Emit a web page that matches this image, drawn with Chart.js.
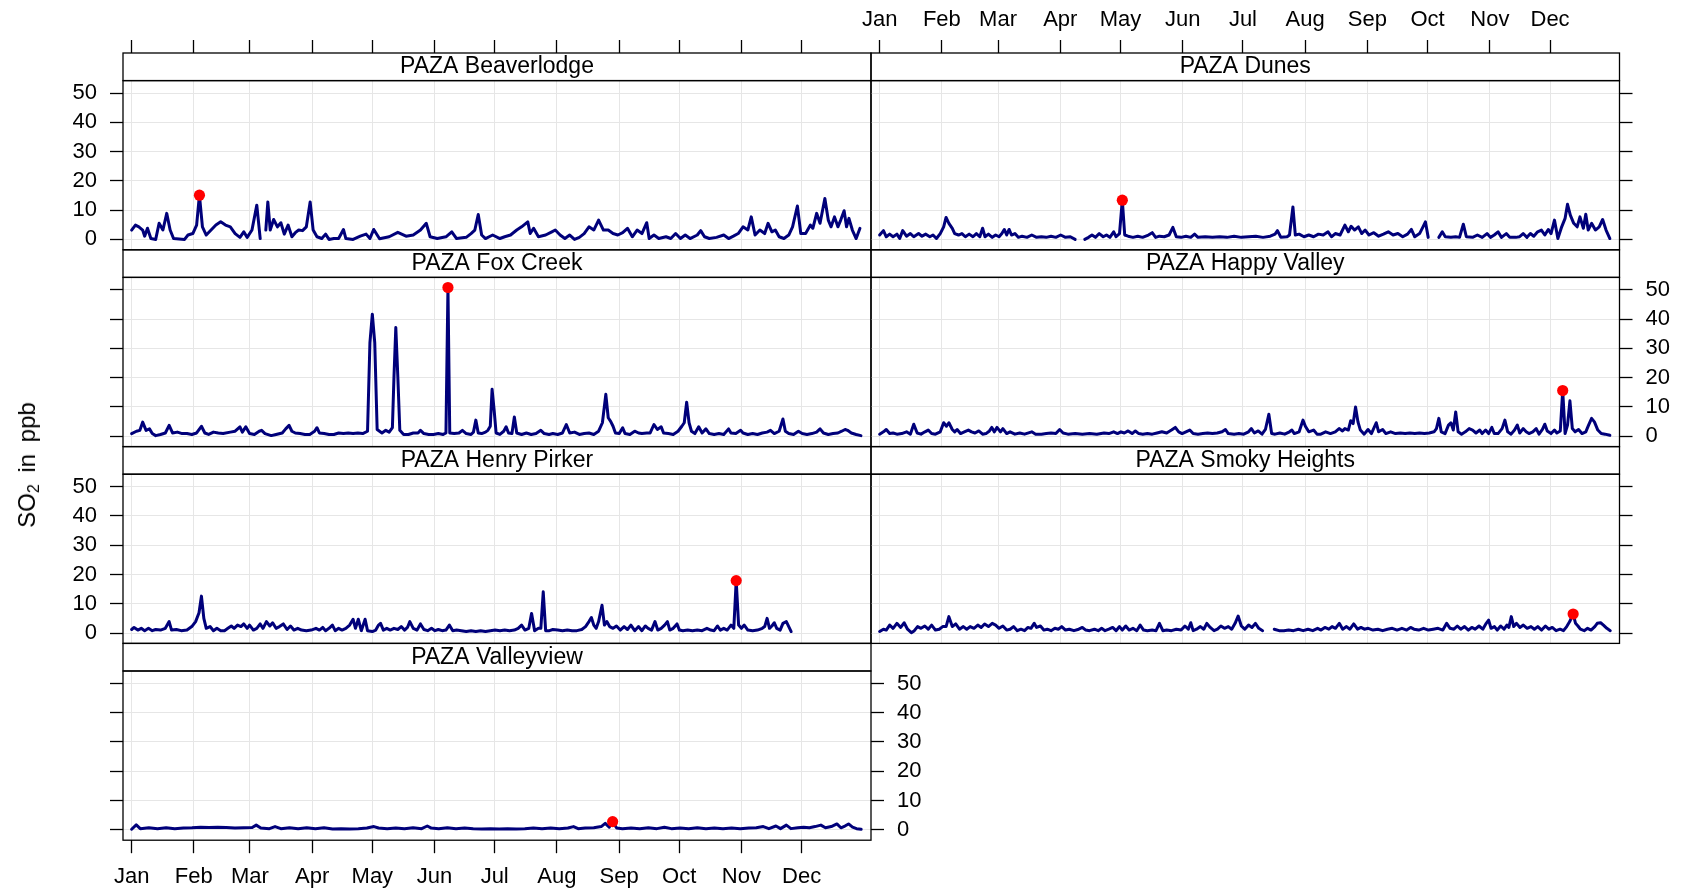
<!DOCTYPE html>
<html>
<head>
<meta charset="utf-8">
<script src="https://cdn.jsdelivr.net/npm/chart.js"></script>
<style>
html,body{margin:0;padding:0;background:#fff;}
#wrap{position:relative;width:1684px;height:892px;overflow:hidden;background:#fff;font-family:'Liberation Sans',Arial,Helvetica,sans-serif;}
#wrap canvas{position:absolute;left:0;top:0;}
#ylab{position:absolute;left:27px;top:465px;transform:translate(-50%,-50%) rotate(-90deg);white-space:nowrap;font-size:24px;color:#000;word-spacing:5px;z-index:5;line-height:1;}
#ylab sub{font-size:16px;vertical-align:-4px;line-height:0;}
</style>
</head>
<body>
<div id="wrap"><div id="ylab">SO<sub>2</sub> in ppb</div></div>
<script>
// ---------------- data (day of year, SO2 ppb) ----------------
const monthStarts = [0, 31, 59, 90, 120, 151, 181, 212, 243, 273, 304, 334];
const monthLabels = ['Jan','Feb','Mar','Apr','May','Jun','Jul','Aug','Sep','Oct','Nov','Dec'];
const yTicks = [0, 10, 20, 30, 40, 50];
const stationNames = ['PAZA Beaverlodge','PAZA Dunes','PAZA Fox Creek','PAZA Happy Valley','PAZA Henry Pirker','PAZA Smoky Heights','PAZA Valleyview'];

const beaverlodge = [[0,3.2],[1.9,4.9],[3.6,4.3],[5.5,3.2],[6.5,1.1],[7.9,3.8],[9.6,0.3],[12,0],[13.7,5.5],[15.6,3.2],[17.5,8.9],[19.2,3.2],[20.9,0.3],[26.4,0],[28.1,1.5],[30.5,2],[32.4,4.9],[33.8,15.1],[35.3,4.3],[37.2,1.5],[39.6,3.2],[42,4.9],[44.4,6],[46.8,4.9],[49.2,4.3],[51.6,2],[54,0.7],[55.9,2.6],[57.6,0.7],[60,3.2],[62.4,11.7],[64.1,0.3],[65.5,null],[66.9,3.2],[67.9,12.8],[69.1,3.2],[70.8,6.8],[72.7,4.3],[74.4,5.7],[76.1,1.8],[78,4.9],[79.9,0.9],[81.6,2.3],[83.3,3.2],[85.2,3],[87.1,4.3],[89,12.8],[90.5,3.2],[92.4,0.9],[94.8,0.3],[96.7,1.8],[98.4,0],[100.8,0.3],[103.2,0.3],[105.6,3.4],[106.8,0.3],[110.4,0],[114,1.1],[116.9,1.8],[118.8,0.3],[120.7,3.4],[123.6,0.2],[128.4,0.9],[132.7,2.4],[136.8,1.1],[140.4,1.5],[144,3.2],[146.9,5.5],[148.8,0.9],[152.4,0.3],[156.7,0.9],[159.6,2.6],[162,0.3],[166.8,0.7],[169.2,2],[171.1,3.2],[172.8,8.5],[174.5,1.5],[176.4,0.3],[180,1.5],[183.6,0.3],[186,0.9],[188.9,1.5],[192,3.2],[194.4,4.3],[197.5,6],[198.7,2],[200.4,3.8],[202.8,0.9],[206.4,1.5],[209.5,2.6],[211.2,3.2],[213.6,1.5],[216,0.3],[218.4,1.5],[220.8,0],[223.2,0.7],[225.6,2],[228,4.3],[230.4,3.2],[232.8,6.6],[235.2,3.2],[237.6,3.2],[240,2],[242.4,1.5],[244.8,2.3],[247.2,3.8],[249.6,0.9],[252,3.2],[254.4,2],[256.8,5.7],[258,0.3],[260.4,1.5],[262.8,0.3],[266.4,0.9],[268.8,0.3],[271.2,2],[273.6,0.3],[276,1.5],[278.4,0.3],[282,1.5],[283.7,3],[285.6,0.9],[288,0.3],[291.6,0.7],[295.2,1.5],[297.6,0.3],[300,1.1],[302.4,2],[304.8,4.3],[307.2,3.2],[308.9,7.7],[310.8,1.5],[313.2,3.2],[315.6,2],[317.3,5.5],[319.2,2.6],[320.9,3.2],[322.8,0.9],[325.2,0.3],[327.6,1.5],[329.5,4.3],[331.9,11.4],[333.6,2],[336,2],[338.4,4.9],[339.6,3.8],[341.5,8.9],[343.2,5.5],[345.6,14],[347.3,6.6],[348.7,4.3],[350.4,7.7],[352.1,4.3],[353.5,6.6],[355.2,9.8],[356.4,4.3],[357.6,7.2],[359.3,3.2],[361.2,0.3],[363.1,3.8]];

const dunes = [[0,1.5],[1.9,3],[3.3,0.9],[5,1.8],[6.7,0.9],[8.6,1.8],[10,0.3],[11.5,3],[13.4,1.1],[15.3,2],[17,0.9],[19.4,2],[21.1,1.1],[23,1.8],[25,0.9],[26.6,1.5],[28.3,0.3],[30.2,2],[31.9,4.3],[33.1,7.5],[34.5,5.5],[36.2,3.8],[37.4,2],[39.3,1.5],[41,2],[42.7,0.9],[44.6,1.8],[46.5,0.9],[48.2,2],[49.9,0.9],[51.3,3.8],[52.5,0.9],[54.2,1.8],[56.1,0.7],[57.8,1.5],[59.5,0.9],[60.9,2],[62.1,3.4],[63.3,1.5],[64.5,3.4],[65.7,1.5],[67.4,2],[69.1,0.7],[71,1.1],[73.4,0.7],[75.8,1.5],[78.2,0.7],[80.6,0.9],[83,0.7],[85.4,1.1],[87.8,0.7],[90.2,1.5],[92.6,0.7],[95,0.9],[97.4,0],[99.8,null],[102.2,0],[104.1,0.7],[105.8,1.5],[107.5,0.7],[109.4,2],[111.4,0.9],[113,1.5],[114.7,0.7],[116.6,2.6],[117.8,0.9],[119.5,2],[120.9,13.4],[122.1,1.5],[123.8,1.1],[126.2,0.7],[128.6,1.1],[131,0.7],[133.9,1.5],[135.8,2.3],[137.5,0.7],[139.4,1.1],[141.8,0.9],[144.2,1.5],[146.1,4.1],[147.8,0.9],[150.2,0.7],[152.6,1.1],[155,0.7],[156.9,1.8],[158.6,0.7],[162.2,0.9],[165.8,0.7],[169.4,0.9],[173,0.7],[176.6,1.1],[180.2,0.7],[183.8,0.9],[187.4,1.1],[191,0.7],[194.6,1.1],[197,1.8],[198.2,3],[199.9,0.7],[203,0.9],[204.2,1.5],[205.9,11.1],[207.1,1.5],[209,1.8],[211.4,0.9],[213.8,1.5],[216.2,0.9],[218.6,1.8],[221,1.5],[223.4,2.6],[225.1,0.9],[227,2],[229.4,1.5],[231.8,4.9],[233.5,2.6],[234.9,4.5],[236.6,3.2],[238.5,4.3],[240.2,2],[241.9,3.2],[243.8,1.5],[246.2,2.3],[248.6,1.1],[251,1.8],[253.4,2.6],[255.8,1.5],[258.2,2],[260.6,0.9],[263,1.8],[264.9,3.4],[266.6,0.9],[269,2],[270.7,4.3],[271.9,6],[273.3,0.7],[276,null],[278.6,0.7],[280.3,2.6],[281.8,0.9],[284.6,0.7],[287,0.9],[288.9,0.7],[290.8,5.2],[292.3,0.9],[295.4,0.7],[297.8,1.5],[300.2,0.7],[302.6,2],[304.3,0.7],[306.2,1.5],[308.1,2.6],[309.8,0.7],[312.2,2],[313.9,0.7],[317,0.7],[318.7,0.9],[320.6,2],[322.5,0.7],[324.2,2],[325.9,1.1],[327.8,2.6],[329.7,3.2],[331.4,1.5],[333.1,3.4],[334.5,2],[336.2,6.6],[337.9,0.3],[339.8,4.3],[341.5,7.2],[342.7,12],[344.1,8.3],[345.8,5.5],[347.5,4.3],[348.9,7.7],[350.6,3.8],[351.8,8.6],[353,3.2],[354.7,5.5],[356.6,3.2],[358.5,4.3],[360.2,6.8],[361.9,3.2],[363.8,0.3]];

const foxCreek = [[0,0.9],[2.4,1.7],[4.1,2],[5.5,4.8],[7.2,2],[8.9,2.5],[10.3,0.9],[12,0.2],[14.4,0.6],[16.8,1.1],[18.7,3.7],[20.4,1.1],[22.8,1.4],[25.2,0.9],[27.6,0.9],[30,0.6],[32.4,1.1],[34.8,3.4],[36.5,1.1],[38.4,0.6],[40.8,1.4],[43.2,1.1],[45.6,0.9],[49.2,1.4],[51.6,1.7],[54,3.2],[55.2,1.4],[56.9,3.2],[58.8,0.9],[61.2,0.6],[63.6,1.7],[64.8,2],[66.5,0.9],[69.6,0.2],[72,0.6],[75.1,1.1],[76.8,2.5],[78.5,3.7],[79.9,1.7],[81.6,1.1],[84,0.9],[86.4,0.6],[88.8,0.6],[91.2,1.7],[92.4,2.9],[93.6,1.1],[96,0.9],[98.4,0.6],[100.8,0.6],[103.2,1.1],[105.6,0.9],[108,1.1],[110.4,0.9],[112.8,1.1],[115.2,0.9],[117.6,1.7],[118.8,32],[120,41.7],[121.2,32],[122.4,2.3],[124.8,1.1],[126.7,2],[128.4,1.4],[130,2.9],[130.8,20.5],[131.7,37.1],[132.7,20.5],[133.7,2],[135.6,0.6],[138,0.6],[140.4,1.1],[142.8,1.1],[144,2],[145.7,0.9],[148.1,0.6],[150.5,0.6],[152.9,0.9],[155.3,0.6],[156.7,1.1],[157.7,50.8],[158.6,1.1],[160.8,0.9],[163.2,1.1],[164.9,2],[166.8,0.9],[169.2,0.6],[170.4,1.4],[171.6,5.5],[172.8,1.1],[174.5,0.9],[176.4,1.4],[177.6,2],[178.8,3.4],[179.7,16],[180.7,9.1],[181.7,1.1],[183.6,0.6],[185.5,1.7],[186.7,3.2],[187.9,1.1],[189.6,0.9],[190.8,6.6],[192,1.1],[194.4,0.6],[196.8,1.1],[199.2,0.6],[201.6,0.9],[204,2],[205.7,0.9],[208.1,0.6],[210,0.9],[212.4,0.6],[214.8,1.1],[216.7,4],[218.4,1.1],[220.8,1.4],[223.2,0.6],[225.6,0.9],[228,1.1],[230.4,0.6],[232.8,1.7],[234.7,4.6],[236.4,14.3],[237.6,6.3],[238.8,5.1],[240,3.4],[241.2,1.1],[243.1,0.9],[244.8,2.9],[246,0.9],[248.4,0.6],[250.8,1.7],[252.7,1.1],[254.4,0.9],[256.8,1.1],[258.5,1.1],[260.4,4],[262.1,2.3],[264,3.2],[265.2,1.1],[267.6,0.9],[270,0.6],[272.4,1.7],[274.3,3.4],[275.5,4.6],[276.7,11.6],[277.9,4.6],[279.1,1.7],[280.8,0.9],[282.7,3.2],[284.4,1.1],[286.3,2.5],[288,0.9],[290.4,0.6],[292.8,0.9],[295.2,0.6],[297.6,2.5],[298.8,1.1],[301.2,0.9],[303.6,2],[304.8,1.1],[307.2,0.6],[309.6,0.9],[312,0.6],[314.4,1.1],[316.8,1.4],[318.5,2],[320.4,0.9],[322.8,1.7],[324.7,5.9],[325.9,1.7],[327.6,0.9],[330,0.6],[332.4,1.7],[334.3,0.9],[336.7,0.6],[339.1,0.9],[341.5,1.4],[343.2,2.5],[344.9,1.1],[347.3,0.6],[349.7,0.9],[352.1,1.1],[354,1.7],[355.7,2.3],[356.9,2],[358.8,1.1],[361.2,0.6],[363.6,0.2]];

const happyValley = [[0,0.7],[1.9,1.5],[3.3,2.3],[5,0.9],[6.7,1.1],[8.6,0.7],[11,0.9],[13.4,1.5],[15.3,0.7],[17,4.1],[18.7,1.1],[20.6,0.7],[22.6,1.5],[24.2,2.1],[25.9,0.9],[27.8,0.7],[30.2,1.5],[31.9,4.6],[33.3,3.4],[34.5,4.6],[36.2,2.3],[37.4,1.5],[38.6,2.3],[40.3,0.9],[42.2,1.5],[44.2,2.1],[45.8,1.5],[47.5,1.1],[49.4,1.8],[51.3,0.7],[53,0.9],[54.7,1.8],[55.9,3],[57.1,1.5],[58.5,3],[60.2,1.5],[61.4,2.6],[63.3,0.9],[65,1.5],[67.4,0.7],[69.8,1.1],[72.2,0.7],[75.8,1.5],[77.7,0.7],[80.6,0.7],[83,0.9],[85.4,1.1],[87.8,0.9],[89.7,2.3],[91.4,1.1],[93.8,0.7],[97.4,0.9],[101,0.7],[104.6,0.9],[108.2,0.7],[111.8,1.1],[114.2,0.9],[116.6,1.5],[118.5,0.9],[120.2,1.5],[121.9,1.1],[123.8,1.8],[125.8,0.9],[127.4,1.8],[129.1,0.9],[131.1,0.7],[133.4,0.9],[135.8,0.7],[138.2,1.1],[140.6,1.5],[143,1.1],[145.4,2.1],[147.3,3],[149,1.5],[150.7,0.9],[152.6,1.5],[154.5,2.1],[156.2,0.9],[158.6,0.7],[161,0.9],[163.4,1.1],[165.8,0.9],[168.2,1.1],[170.6,1.5],[172.3,2.3],[173.7,0.9],[176.6,0.7],[179,0.9],[181.4,0.7],[183.8,1.5],[185.2,2.6],[186.7,1.1],[188.6,1.8],[190.5,0.7],[192.2,2.3],[193.9,7.5],[195.3,0.9],[197,0.7],[199.4,1.1],[201.8,0.7],[204.2,1.5],[205.4,2.1],[206.6,0.9],[209,1.5],[210.9,5.5],[212.1,3.4],[213.8,1.5],[216.2,2.1],[217.9,0.7],[219.8,0.7],[222.2,1.5],[224.6,0.9],[227,1.5],[228.9,2.6],[230.6,1.8],[231.8,2.6],[233.5,2.1],[234.7,5.3],[235.9,4.3],[237.1,10],[238.3,4.9],[239.5,2.1],[241.4,0.7],[243.3,2.3],[245,0.9],[247.4,4.6],[248.6,1.5],[250.6,2.3],[252.2,0.9],[254.6,1.5],[257,0.9],[259.4,1.1],[261.8,0.9],[264.2,1.1],[266.6,0.9],[269,1.1],[271.4,0.9],[273.8,1.1],[276.2,1.5],[277.4,2.6],[278.6,6.1],[279.8,1.5],[281.7,0.9],[283.4,3.8],[284.6,4.6],[285.8,2.1],[287,8.3],[288.2,1.5],[289.9,0.7],[291.8,1.5],[293.7,2.6],[295.4,2.1],[297.1,1.1],[299,2.1],[300.2,0.9],[301.9,2.1],[303.4,0.9],[305,3],[306.2,0.9],[308.1,0.9],[310.1,2.6],[311.5,5.5],[312.9,1.5],[314.6,0.7],[316.3,2.1],[317.7,3.8],[318.9,1.1],[320.6,2.6],[322.1,1.5],[323.5,0.9],[325.4,1.5],[327.1,2.6],[328.5,0.7],[330.2,2.3],[331.4,4.1],[332.6,1.8],[334.5,0.9],[336.2,2.1],[337.4,1.1],[339.1,1.8],[340.3,15.6],[341.5,0.9],[342.7,3.8],[343.9,12.1],[345.1,2.6],[346.5,1.5],[348.2,2.3],[349.9,0.9],[351.8,1.5],[353.2,3.8],[354.7,6.1],[356.1,4.9],[357.8,2.1],[359.5,0.9],[361.4,0.7],[363.8,0.3]];

const henryPirker = [[0,1.2],[1.2,1.9],[3.1,1],[4.8,1.6],[6.5,0.8],[8.4,1.6],[10.3,0.8],[12,1.2],[14.4,1],[16.8,1.6],[18.7,3.9],[19.9,1],[22.3,1.2],[24.7,0.8],[27.6,1],[30,2.2],[31.9,3.9],[33.6,6.9],[34.8,12.6],[36,5],[37.2,1.6],[39.1,2.2],[40.8,0.8],[42.5,1.6],[44.4,0.8],[46.3,0.8],[48,1.6],[49.7,2.4],[51.1,1.6],[52.8,2.7],[54.5,2.2],[55.9,3.1],[57.6,1.6],[58.8,2.7],[60.7,1],[62.4,1.6],[64.1,3.1],[65.5,1.6],[67.2,3.9],[68.9,2.4],[70.3,3.5],[72,1.6],[73.7,2.2],[75.6,3.1],[77.5,1.2],[79.2,2.4],[80.9,1],[82.8,1.6],[84.7,1],[87.1,0.8],[89.5,1],[91.9,1.6],[93.6,1],[95.3,1.9],[96.7,0.8],[98.4,1.6],[100.1,2.7],[101.5,0.8],[103.2,1.6],[104.9,1],[106.8,1.6],[108.7,2.7],[110.4,4.7],[111.6,1.6],[113,4.7],[114.5,0.8],[116.4,4.7],[117.6,0.8],[120,0.5],[121.7,1],[123.1,2.7],[124.1,3.3],[125.5,1],[127.2,1.6],[128.9,1],[130.8,1.6],[132.7,1.2],[134.4,2.2],[136.1,1],[137.5,1.9],[138.7,3.9],[140.4,1.6],[142.3,1],[144,3.1],[145.7,1.2],[147.6,0.8],[149.5,1.6],[151.2,0.8],[152.9,1.2],[154.8,0.8],[156.7,1],[158.4,2.7],[160.1,0.8],[162,1],[164.4,0.8],[166.8,0.5],[169.2,0.8],[171.6,0.5],[174,0.8],[176.4,0.5],[178.8,0.8],[181.2,1],[183.6,0.8],[186,1],[188.4,0.8],[190.8,1],[192.7,1.6],[194.4,2.7],[196.1,1],[198,1.6],[199.4,6.7],[200.9,0.8],[202.8,1.6],[204,1.6],[205.2,14.1],[206.4,0.8],[208.3,0.8],[210,1.2],[212.4,1],[214.8,0.8],[217.2,1],[219.6,0.8],[222,0.8],[224.4,1.2],[226.3,2.2],[228,3.9],[229.2,5.3],[230.4,2.7],[231.6,1.6],[232.8,3.9],[234.5,9.5],[235.7,2.7],[236.9,3.9],[238.3,2.2],[240,1.6],[241.7,2.4],[243.6,1],[245.5,2.2],[247.2,1.2],[248.9,2.7],[250.8,0.8],[252.7,2.2],[254.4,0.8],[256.1,2.4],[257.5,1.6],[259.2,1],[260.9,3.9],[262.3,1],[264,1.6],[265.7,2.7],[267.1,3.9],[268.3,1],[270,1.6],[271.9,3.1],[273.1,1],[274.8,0.8],[277.2,1],[279.6,0.8],[282,1],[284.4,0.8],[286.8,1.6],[288.7,1],[290.4,0.8],[292.1,2.4],[293.5,1],[295.2,1.6],[296.9,1],[298.8,2.7],[300.2,1.6],[301.4,17.9],[302.6,2.7],[304,1.6],[305.4,2.7],[307.2,1],[309.6,0.8],[312,1],[314.4,1.6],[315.6,2.2],[316.8,5],[318,1.6],[319.2,2.4],[320.4,3.5],[321.6,1.6],[323.3,1],[324.7,3.3],[326.4,3.9],[327.6,2.2],[328.8,0.5]];

const smokyHeights = [[0,0.5],[1.9,1.3],[3.3,1],[5,2.7],[6.7,1.6],[8.6,3.3],[10.5,1.9],[12.2,3.5],[13.9,1.3],[15.8,0.1],[17.3,0.8],[18.9,2.2],[20.6,1.6],[22.5,2.4],[24.2,1.3],[25.9,2.7],[27.8,1],[29.7,1.3],[31.4,2.2],[33.1,2.2],[34.5,5.6],[36.2,2.2],[37.9,3.1],[39.8,1.3],[41.7,2.2],[43.4,1.3],[45.1,2.2],[47,1.6],[48.9,2.7],[50.6,1.9],[52.3,3.1],[54.2,2.2],[56.1,3.3],[57.8,2.7],[59.5,1.6],[61.4,2.4],[63.3,1],[65,1.3],[66.7,2.2],[68.6,0.8],[70.4,1.3],[72.2,0.8],[73.9,1.9],[75.4,1.6],[77,3.3],[78.2,1.9],[80.1,2.4],[81.8,1],[83.5,1.3],[85.4,0.8],[87.3,1.6],[89,1.3],[90.7,2.2],[92.6,1],[94.5,1.3],[96.8,0.8],[99.2,1.3],[101,1.9],[102.7,1],[104.6,0.8],[107,1.3],[108.9,0.8],[110.6,1.6],[112.3,0.8],[114.2,1.3],[116.1,1.9],[117.8,0.8],[119.5,2.2],[120.9,1],[122.6,2.4],[124.3,1],[126.2,1.6],[128.1,0.8],[129.8,2.7],[131.5,1],[133.4,0.8],[135.8,1],[137.7,0.8],[139.4,3.3],[141.1,0.8],[143,1],[145.4,0.8],[147.8,1.3],[150.2,1],[152.1,2.4],[153.8,1.3],[155,3.5],[156.2,0.8],[157.9,1.3],[159.8,2.2],[161.5,1.3],[163,3.3],[164.7,1.9],[166.6,0.8],[168.3,1.3],[170,2.4],[171.8,1.6],[173.7,2.2],[175.4,1.3],[177.1,3.3],[178.6,5.8],[180.2,2.4],[181.9,1.3],[183.8,2.7],[185.5,1.9],[187.2,3.3],[188.9,1.6],[190.8,0.8],[193.7,null],[196.6,1.3],[199,0.8],[201.4,0.8],[203.8,1],[206.2,0.8],[208.6,1.3],[211,0.8],[213.4,1.3],[215.8,0.8],[218.2,1.6],[219.9,1],[221.8,1.9],[223.8,1.3],[225.4,2.2],[227.1,1.6],[229,3.3],[230.7,1.3],[232.6,2.2],[234.3,1.3],[236.2,3.1],[238.1,1.3],[239.8,1.9],[241.5,1.3],[243.4,1.6],[245.8,1],[248.2,1.3],[250.6,0.8],[253,1.3],[255.4,1.6],[257.8,1],[260.2,1.6],[262.6,1],[264.5,1.9],[266.2,1.3],[268.6,1],[271,1.6],[273.4,1],[275.8,1.3],[278.2,1.6],[280.6,1],[282.5,3.3],[284.2,1.6],[286.1,1.3],[287.8,2.4],[289.5,1.3],[291.4,2.2],[293.3,1],[295,1.9],[296.7,1.3],[298.6,2.4],[300.5,1.3],[302.2,3.3],[303.4,4.4],[304.6,1.6],[306.3,2.2],[307.7,1],[309.4,2.4],[311.1,1.3],[312.5,2.7],[313.5,1.9],[314.7,5.6],[315.9,2.2],[317.3,3.3],[319,1.9],[320.7,2.7],[322.6,1.6],[324.5,2.2],[326.2,1.3],[327.9,2.2],[329.8,1],[331.7,2.4],[333.4,1.3],[335.1,1.9],[337,0.8],[339,1.3],[340.7,0.8],[342.3,2.2],[343.8,3.9],[345.5,6.5],[346.7,3.3],[347.9,2.4],[349.1,1.3],[351,0.8],[352.7,1.6],[354.4,1],[356.3,2.2],[357.5,3.3],[359.2,3.5],[360.6,2.7],[362.3,1.6],[364,0.8]];

const valleyview = [[0,0.2],[2.3,1.7],[4.3,0.4],[8.6,0.7],[12.9,0.4],[17.2,0.7],[21.5,0.4],[25.8,0.6],[30.1,0.7],[34.4,0.9],[38.6,0.8],[42.9,0.9],[47.2,0.8],[51.5,0.6],[55.8,0.7],[60.1,0.8],[62.1,1.6],[64.4,0.6],[68.7,0.4],[71.5,1.1],[74.4,0.4],[78.7,0.7],[83,0.4],[87.3,0.7],[91.6,0.4],[95.9,0.7],[100.2,0.3],[104.4,0.4],[108.7,0.3],[113,0.4],[117.3,0.6],[120.8,1.1],[123.1,0.6],[127.4,0.4],[131.7,0.6],[136,0.4],[140.3,0.7],[144.6,0.4],[147.4,1.3],[149.4,0.6],[153.1,0.4],[157.4,0.7],[161.7,0.4],[166,0.6],[170.3,0.4],[174.6,0.3],[178.9,0.4],[183.2,0.3],[187.4,0.4],[191.7,0.3],[196,0.4],[200.3,0.6],[204.6,0.4],[208.9,0.6],[213.2,0.4],[217.5,0.6],[220.3,1.1],[222.6,0.4],[226.1,0.6],[230.4,0.7],[234.1,1.1],[236.1,2.2],[238.1,0.9],[239.8,2.8],[241.8,0.6],[244.7,0.4],[249,0.6],[253.3,0.4],[257.6,0.7],[261.9,0.4],[265.6,0.9],[269.1,0.4],[273.4,0.6],[277.7,0.4],[282,0.7],[286.3,0.4],[290.5,0.6],[294.8,0.4],[299.1,0.6],[303.4,0.4],[307.7,0.6],[311.4,0.7],[314.9,1.1],[317.7,0.4],[321.2,1.3],[323.5,0.4],[326.4,1.6],[328.7,0.4],[332.1,0.7],[335,0.9],[337.9,0.7],[340.7,1.1],[343.6,1.6],[345.9,0.7],[348.8,1.1],[351.6,2],[353.6,0.7],[355.6,1.3],[357.4,2],[359.4,0.9],[361.4,0.4],[363.7,0.2]];

// ---------------- layout & style ----------------
const W = 1684, H = 892;
const FONT = "'Liberation Sans', Arial, Helvetica, sans-serif";
Chart.defaults.font.family = FONT;
Chart.defaults.font.size = 22;
Chart.defaults.color = '#000';

const X_MIN = -4.3, X_MAX = 368.6, Y_MIN = -3.55, Y_MAX = 54.25;
const COLS = [[123, 871], [871, 1619.5]];
const TOP0 = 53, PITCH = 196.8, STRIP_H = 27.6;
const TICK_LEN = 13, AXIS_W = 60;
const GRID = '#e6e6e6', LINE = '#00007a';
const TICK_FONT = 22, STRIP_FONT = 23;

const wrap = document.getElementById('wrap');
function newCanvas() {
  const c = document.createElement('canvas');
  c.width = W; c.height = H;
  c.style.width = W + 'px'; c.style.height = H + 'px';
  wrap.appendChild(c);
  return c;
}

const framePlugin = {
  id: 'frame',
  afterDraw(chart) {
    const {ctx, chartArea: a} = chart;
    ctx.save();
    ctx.strokeStyle = '#000';
    ctx.lineWidth = 1.3;
    ctx.strokeRect(a.left, a.top, a.right - a.left, a.bottom - a.top);
    ctx.strokeRect(a.left, a.top - STRIP_H, a.right - a.left, STRIP_H);
    ctx.restore();
  }
};

function monthTicks(s) { s.ticks = monthStarts.map(v => ({value: v})); }
function monthLabel(v) { const i = monthStarts.indexOf(v); return i >= 0 ? monthLabels[i] : ''; }

function yAxis(position, mode, drawGrid) {
  return {
    type: 'linear', position, min: Y_MIN, max: Y_MAX, display: true,
    afterBuildTicks: s => { s.ticks = yTicks.map(v => ({value: v})); },
    afterFit: s => { s.width = AXIS_W; },
    grid: {drawOnChartArea: drawGrid, color: GRID, lineWidth: 1, drawTicks: true,
           tickLength: TICK_LEN, tickColor: '#000', tickWidth: 1.3},
    border: {display: false},
    ticks: {display: mode === 'labels', padding: 13, font: {size: TICK_FONT}, color: '#000'}
  };
}

function xAxis(withAxis, bottomH) {
  return {
    type: 'linear', position: 'bottom', min: X_MIN, max: X_MAX, display: true,
    afterBuildTicks: monthTicks,
    afterFit: s => { s.height = withAxis ? bottomH : 0; },
    grid: {drawOnChartArea: true, color: GRID, lineWidth: 1, drawTicks: withAxis,
           tickLength: TICK_LEN, tickColor: '#000', tickWidth: 1.3},
    border: {display: false},
    ticks: {display: withAxis, autoSkip: false, maxRotation: 0, minRotation: 0, padding: 10.6,
            font: {size: TICK_FONT}, color: '#000', callback: monthLabel}
  };
}

const panels = [
  {name: stationNames[0], pts: beaverlodge, col: 0, row: 0, left: 'labels', right: null},
  {name: stationNames[1], pts: dunes, col: 1, row: 0, left: null, right: 'ticks'},
  {name: stationNames[2], pts: foxCreek, col: 0, row: 1, left: 'ticks', right: null},
  {name: stationNames[3], pts: happyValley, col: 1, row: 1, left: null, right: 'labels'},
  {name: stationNames[4], pts: henryPirker, col: 0, row: 2, left: 'labels', right: null},
  {name: stationNames[5], pts: smokyHeights, col: 1, row: 2, left: null, right: 'ticks'},
  {name: stationNames[6], pts: valleyview, col: 0, row: 3, left: 'ticks', right: 'labels', bottom: true}
];

panels.forEach(p => {
  const [L, R] = COLS[p.col];
  const stripTop = TOP0 + p.row * PITCH;
  const plotBottom = stripTop + PITCH;
  const bottomH = H - plotBottom;
  const valid = p.pts.filter(d => d[1] !== null);
  const peak = valid.reduce((a, b) => (b[1] > a[1] ? b : a));

  const scales = {x: xAxis(!!p.bottom, bottomH)};
  if (p.left) {
    scales.y = yAxis('left', p.left, true);
    if (p.right) scales.y2 = yAxis('right', p.right, false);
  } else {
    scales.y = yAxis('right', p.right, true);
  }

  new Chart(newCanvas(), {
    type: 'line',
    data: {
      datasets: [
        {data: [{x: peak[0], y: peak[1]}], showLine: false, pointRadius: 5.6,
         pointBackgroundColor: '#ff0000', pointBorderColor: '#ff0000', pointBorderWidth: 0, yAxisID: 'y'},
        {data: p.pts.map(d => ({x: d[0], y: d[1]})), borderColor: LINE, borderWidth: 3,
         pointRadius: 0, tension: 0, spanGaps: false, fill: false,
         borderJoinStyle: 'round', borderCapStyle: 'round', yAxisID: 'y'}
      ]
    },
    options: {
      responsive: false, animation: false, devicePixelRatio: 1, events: [],
      layout: {padding: {
        left: L - (p.left ? AXIS_W : 0),
        right: W - R - (p.right ? AXIS_W : 0),
        top: stripTop,
        bottom: p.bottom ? 0 : bottomH
      }},
      plugins: {
        legend: {display: false}, tooltip: {enabled: false},
        title: {display: true, text: p.name, position: 'top', fullSize: false, color: '#000',
                font: {size: STRIP_FONT, weight: 'normal', lineHeight: 1.2}, padding: {top: 0, bottom: 0}}
      },
      scales
    },
    plugins: [framePlugin]
  });
});

// top axes (ticks on both columns, labels on the right column)
[0, 1].forEach(col => {
  const [L, R] = COLS[col];
  new Chart(newCanvas(), {
    type: 'line',
    data: {datasets: []},
    options: {
      responsive: false, animation: false, devicePixelRatio: 1, events: [],
      layout: {padding: {left: L, right: W - R, top: 0, bottom: H - (TOP0 + STRIP_H)}},
      plugins: {legend: {display: false}, tooltip: {enabled: false}},
      scales: {
        x: {
          type: 'linear', position: 'top', min: X_MIN, max: X_MAX,
          afterBuildTicks: monthTicks,
          afterFit: s => { s.height = TOP0; },
          grid: {drawOnChartArea: false, drawTicks: true, tickLength: TICK_LEN, tickColor: '#000', tickWidth: 1.3},
          border: {display: false},
          ticks: {display: col === 1, autoSkip: false, maxRotation: 0, minRotation: 0, padding: 6.8,
                  font: {size: TICK_FONT}, color: '#000', callback: monthLabel}
        },
        y: {display: false, min: Y_MIN, max: Y_MAX}
      }
    }
  });
});
</script>
</body>
</html>
